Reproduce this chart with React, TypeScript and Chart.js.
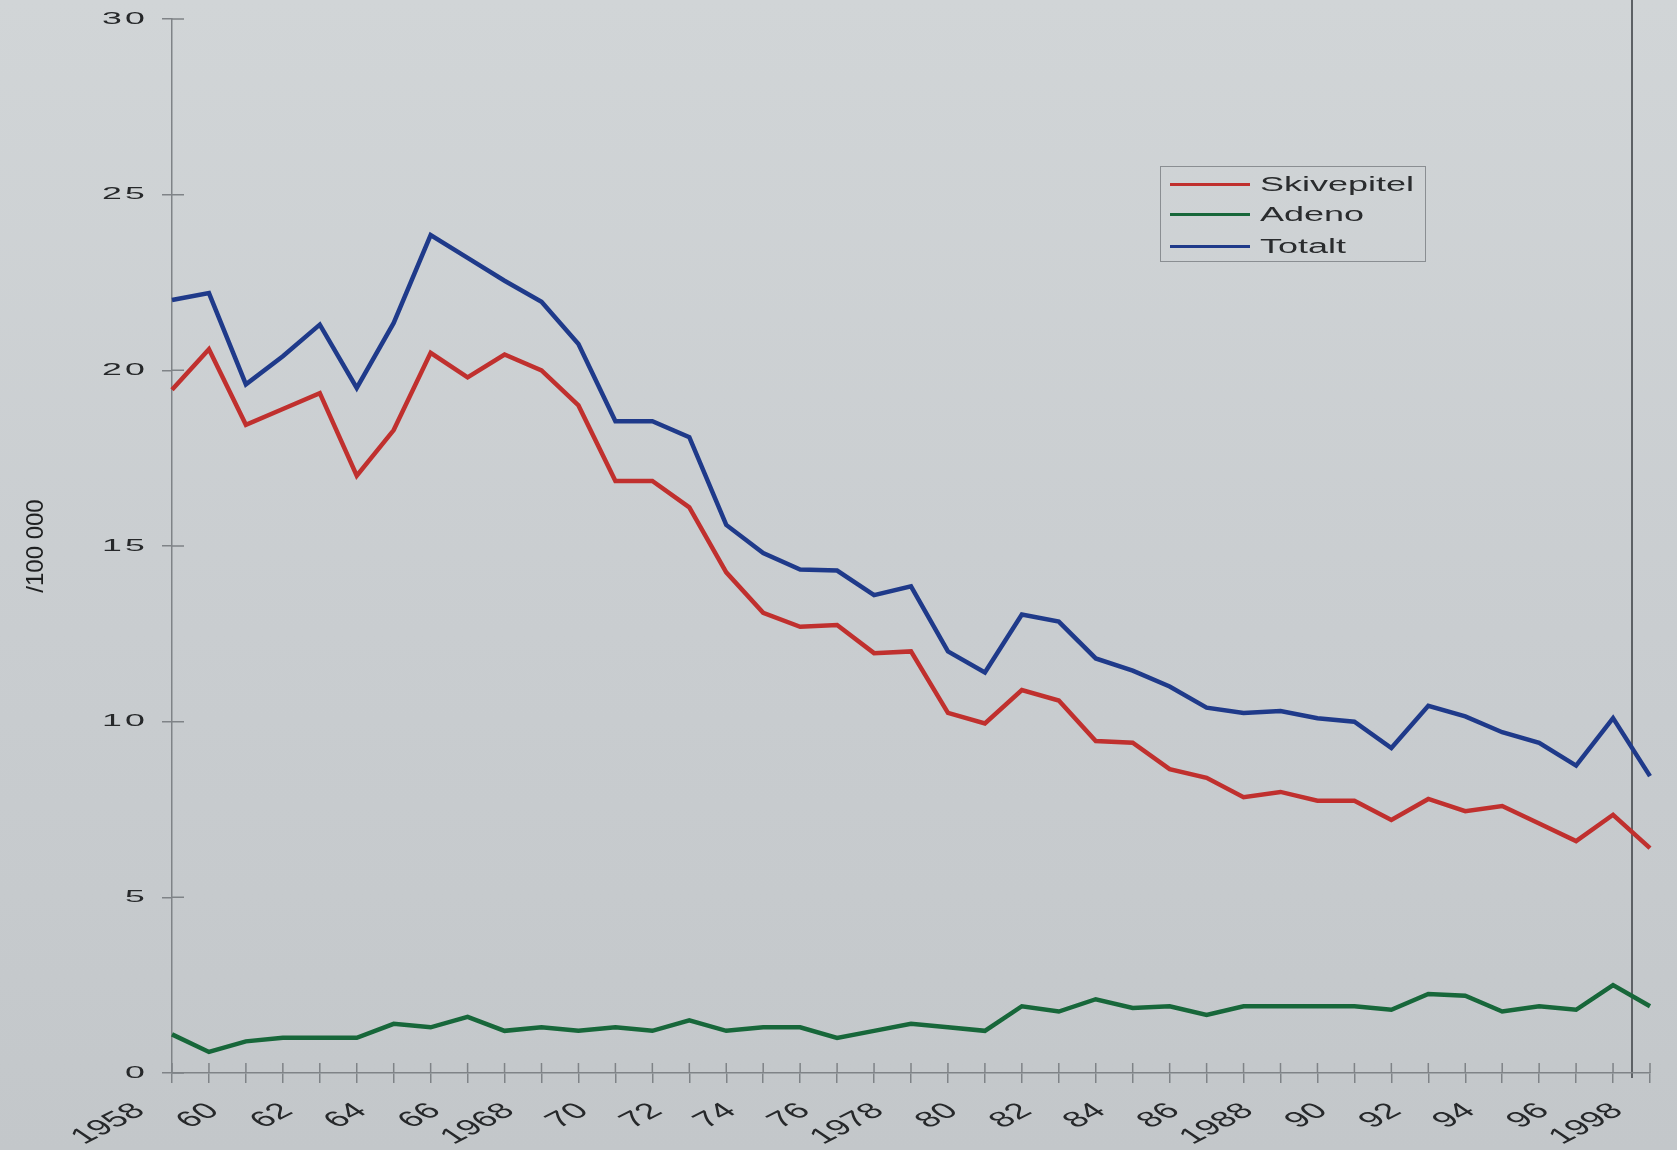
import React, { useEffect, useRef } from 'react';
import { Chart, registerables } from 'chart.js';

Chart.register(...registerables);

const years = [
  1958, 1959, 1960, 1961, 1962, 1963, 1964, 1965, 1966, 1967,
  1968, 1969, 1970, 1971, 1972, 1973, 1974, 1975, 1976, 1977,
  1978, 1979, 1980, 1981, 1982, 1983, 1984, 1985, 1986, 1987,
  1988, 1989, 1990, 1991, 1992, 1993, 1994, 1995, 1996, 1997, 1998,
];

const skivepitel = [
  19.45, 20.6, 18.45, 18.9, 19.35, 17.0, 18.3, 20.5, 19.8, 20.45,
  20.0, 19.0, 16.85, 16.85, 16.1, 14.25, 13.1, 12.7, 12.75, 11.95,
  12.0, 10.25, 9.95, 10.9, 10.6, 9.45, 9.4, 8.65, 8.4, 7.85,
  8.0, 7.75, 7.75, 7.2, 7.8, 7.45, 7.6, 7.1, 6.6, 7.35, 6.4,
];

const adeno = [
  1.1, 0.6, 0.9, 1.0, 1.0, 1.0, 1.4, 1.3, 1.6, 1.2,
  1.3, 1.2, 1.3, 1.2, 1.5, 1.2, 1.3, 1.3, 1.0, 1.2,
  1.4, 1.3, 1.2, 1.9, 1.75, 2.1, 1.85, 1.9, 1.65, 1.9,
  1.9, 1.9, 1.9, 1.8, 2.25, 2.2, 1.75, 1.9, 1.8, 2.5, 1.9,
];

const totalt = [
  22.0, 22.2, 19.6, 20.4, 21.3, 19.5, 21.35, 23.85, 23.2, 22.55,
  21.95, 20.75, 18.55, 18.55, 18.1, 15.6, 14.8, 14.33, 14.3, 13.6,
  13.85, 12.0, 11.4, 13.05, 12.85, 11.8, 11.45, 11.0, 10.4, 10.25,
  10.3, 10.1, 10.0, 9.25, 10.45, 10.15, 9.7, 9.4, 8.75, 10.1, 8.45,
];

const fullYearLabels = [1958, 1968, 1978, 1988, 1998];
const yMin = 0;
const yMax = 30;
const yStep = 5;
const yTitle = '/100 000';

const seriesNames = ['Skivepitel', 'Adeno', 'Totalt'];
const seriesColors = ['#c0302e', '#17673a', '#1f3a8a'];

const AXIS_COLOR = '#7f8387';
const TEXT_COLOR = '#26282a';
const FONT = '"Liberation Sans", Arial, sans-serif';

const W = 1677;
const H = 1150;

function xLabel(yr: number) {
  if (yr % 2 !== 0) return '';
  if (fullYearLabels.includes(yr)) return String(yr);
  return String(yr).slice(2);
}

// Tick labels drawn at the scales' own tick positions, with the
// horizontally widened lettering of the original slide.
const axisDecor = {
  id: 'axisDecor',
  afterDraw(chart: any) {
    const ctx = chart.ctx;
    const xs = chart.scales.x;
    const ys = chart.scales.y;
    const area = chart.chartArea;

    // inner halves of crossing tick marks
    ctx.save();
    ctx.strokeStyle = AXIS_COLOR;
    ctx.lineWidth = 1.5;
    ctx.beginPath();
    xs.ticks.forEach((_t: any, i: number) => {
      const x = xs.getPixelForTick(i);
      ctx.moveTo(x, area.bottom);
      ctx.lineTo(x, area.bottom - 10);
    });
    ys.ticks.forEach((_t: any, i: number) => {
      const y = ys.getPixelForTick(i);
      ctx.moveTo(area.left, y);
      ctx.lineTo(area.left + 12, y);
    });
    ctx.stroke();
    ctx.restore();

    // y tick labels
    ctx.save();
    ctx.fillStyle = TEXT_COLOR;
    ctx.font = `17px ${FONT}`;
    ctx.letterSpacing = '1.5px';
    ctx.textAlign = 'right';
    ctx.textBaseline = 'middle';
    ys.ticks.forEach((t: any, i: number) => {
      const y = ys.getPixelForTick(i);
      ctx.save();
      ctx.translate(area.left - 24, y);
      ctx.scale(2.1, 1);
      ctx.fillText(String(t.value), 0, 0);
      ctx.restore();
    });
    ctx.restore();

    // x tick labels
    ctx.save();
    ctx.fillStyle = TEXT_COLOR;
    ctx.font = `22px ${FONT}`;
    ctx.textAlign = 'right';
    ctx.textBaseline = 'middle';
    xs.ticks.forEach((_t: any, i: number) => {
      const label = xLabel(years[i]);
      if (!label) return;
      const x = xs.getPixelForTick(i);
      ctx.save();
      ctx.translate(x - 32, area.bottom + 35);
      ctx.scale(1.7, 1);
      ctx.rotate((-41 * Math.PI) / 180);
      ctx.fillText(label, 0, 0);
      ctx.restore();
    });
    ctx.restore();
  },
};

export default function App() {
  const canvasRef = useRef<HTMLCanvasElement | null>(null);

  useEffect(() => {
    document.body.style.margin = '0';
    document.body.style.background = '#c9cdd0';
    const canvas = canvasRef.current;
    if (!canvas) return;
    const chart = new Chart(canvas, {
      type: 'line',
      data: {
        labels: years.map(String),
        datasets: [skivepitel, adeno, totalt].map((d, i) => ({
          label: seriesNames[i],
          data: d,
          borderColor: seriesColors[i],
          backgroundColor: seriesColors[i],
          borderWidth: 4.5,
          pointRadius: 0,
          tension: 0,
          fill: false,
        })),
      },
      options: {
        responsive: false,
        animation: false,
        layout: { padding: { top: 19, right: 27, left: 0, bottom: 0 } },
        plugins: {
          legend: { display: false },
          tooltip: { enabled: false },
        },
        scales: {
          x: {
            type: 'category',
            offset: false,
            grid: {
              drawOnChartArea: false,
              drawTicks: true,
              tickLength: 10,
              color: AXIS_COLOR,
              lineWidth: 1.5,
            },
            border: { display: true, color: AXIS_COLOR, width: 1.5 },
            ticks: {
              display: false,
              autoSkip: false,
              callback: (_v: any, i: number) => xLabel(years[i]),
            },
            afterFit: (s: any) => {
              s.height = 77;
              s.paddingLeft = 0;
              s.paddingRight = 0;
            },
          },
          y: {
            type: 'linear',
            min: yMin,
            max: yMax,
            grid: {
              drawOnChartArea: false,
              drawTicks: true,
              tickLength: 10,
              color: AXIS_COLOR,
              lineWidth: 1.5,
            },
            border: { display: true, color: AXIS_COLOR, width: 1.5 },
            ticks: {
              display: false,
              stepSize: yStep,
            },
            title: {
              display: true,
              text: yTitle,
              color: '#1e1f20',
              font: { size: 24, family: FONT },
              padding: { top: 22, bottom: 0 },
            },
            afterFit: (s: any) => {
              s.width = 172;
              s.paddingTop = 0;
              s.paddingBottom = 0;
            },
          },
        },
      },
      plugins: [axisDecor],
    });
    return () => chart.destroy();
  }, []);

  return (
    <div
      style={{
        position: 'relative',
        width: W,
        height: H,
        overflow: 'hidden',
        background: 'linear-gradient(180deg, #d1d5d7 0%, #c9cdd0 55%, #c3c7ca 100%)',
        fontFamily: FONT,
      }}
    >
      <div
        style={{
          position: 'absolute',
          left: 1631,
          top: 0,
          width: 2,
          height: 1078,
          background: '#5d6165',
        }}
      />
      <canvas
        ref={canvasRef}
        width={W}
        height={H}
        style={{ position: 'absolute', left: 0, top: 0, width: W, height: H }}
      />
      <div
        style={{
          position: 'absolute',
          left: 1160,
          top: 166,
          width: 264,
          height: 94,
          border: '1.5px solid #8a8e92',
        }}
      >
        {seriesNames.map((name, i) => (
          <div
            key={name}
            style={{
              position: 'absolute',
              left: 0,
              top: [17, 47, 79][i] - 14,
              height: 28,
              display: 'flex',
              alignItems: 'center',
            }}
          >
            <div
              style={{
                marginLeft: 9,
                width: 80,
                height: 3,
                background: seriesColors[i],
              }}
            />
            <span
              style={{
                marginLeft: 10,
                fontSize: 20,
                color: '#2a2c2e',
                lineHeight: '28px',
                display: 'inline-block',
                transform: 'scaleX(1.8)',
                transformOrigin: 'left center',
                whiteSpace: 'nowrap',
              }}
            >
              {name}
            </span>
          </div>
        ))}
      </div>
    </div>
  );
}
